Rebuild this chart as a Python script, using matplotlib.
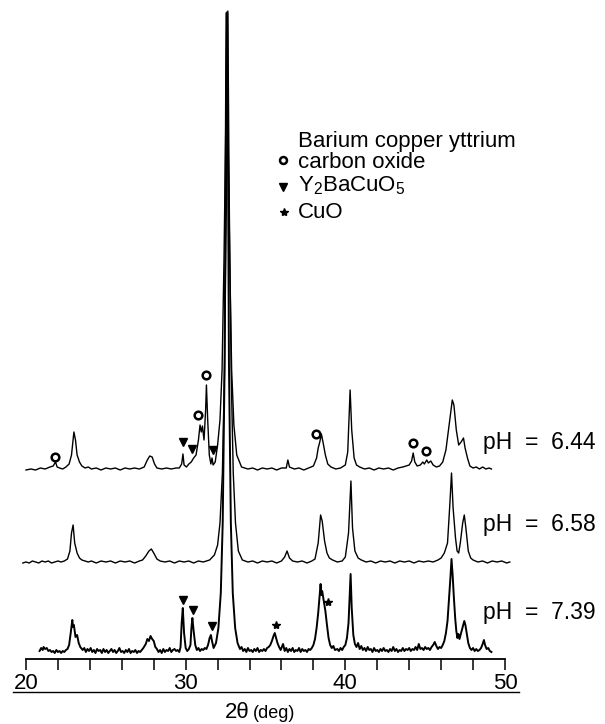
import matplotlib.pyplot as plt
from matplotlib.lines import Line2D

plt.rcParams['font.family'] = ['Liberation Sans', 'DejaVu Sans']
plt.rcParams['mathtext.fontset'] = 'custom'
plt.rcParams['mathtext.rm'] = 'Liberation Sans'

# XRD patterns: (2theta in deg, intensity above own baseline, arb. units)
pts_739 = [
    (20.85, 2), (20.95, 5), (21.05, 3), (21.1, 6), (21.2, 4), (21.3, 5), (21.4, 2), (21.5, 3),
    (21.6, 1), (21.7, 2), (21.8, 0), (21.9, 3), (22.0, 1), (22.1, 2), (22.2, 0), (22.3, 2),
    (22.4, 1), (22.5, 3), (22.6, 4), (22.7, 8), (22.8, 20), (22.9, 33), (22.95, 26), (23.0, 28),
    (23.1, 16), (23.2, 18), (23.3, 10), (23.4, 6), (23.55, 3), (23.65, 5), (23.75, 1), (23.85, 4),
    (23.95, 2), (24.05, 5), (24.15, 1), (24.25, 3), (24.35, 0), (24.45, 4), (24.55, 2), (24.65, 3),
    (24.75, 0), (24.85, 4), (24.95, 1), (25.05, 3), (25.15, 0), (25.25, 2), (25.35, 4), (25.45, 1),
    (25.55, 3), (25.65, 0), (25.75, 2), (25.85, 5), (25.95, 1), (26.05, 2), (26.15, 0), (26.25, 3),
    (26.35, 1), (26.45, 4), (26.55, 0), (26.65, 2), (26.75, 1), (26.85, 3), (26.95, 0), (27.05, 2),
    (27.15, 1), (27.25, 3), (27.35, 5), (27.5, 9), (27.6, 14), (27.7, 12), (27.8, 17), (27.9, 14),
    (28.0, 12), (28.1, 6), (28.2, 4), (28.3, 1), (28.4, 3), (28.5, 0), (28.6, 4), (28.7, 1),
    (28.8, 3), (28.9, 2), (29.0, 5), (29.1, 1), (29.2, 3), (29.3, 4), (29.4, 2), (29.5, 3),
    (29.6, 1), (29.68, 6), (29.75, 30), (29.82, 45), (29.9, 20), (30.0, 5), (30.1, 2), (30.2, 4),
    (30.3, 8), (30.36, 25), (30.42, 35), (30.5, 22), (30.6, 8), (30.7, 3), (30.8, 5), (30.9, 2),
    (31.0, 4), (31.1, 3), (31.2, 5), (31.3, 4), (31.4, 8), (31.5, 15), (31.58, 18), (31.65, 12),
    (31.75, 5), (31.9, 10), (32.05, 25), (32.2, 60), (32.32, 130), (32.44, 290), (32.55, 640),
    (32.61, 640), (32.71, 290), (32.83, 130), (32.95, 60), (33.1, 25), (33.25, 10), (33.4, 4),
    (33.5, 6), (33.6, 2), (33.7, 4), (33.8, 1), (33.9, 5), (34.0, 2), (34.1, 3), (34.2, 1),
    (34.3, 4), (34.4, 2), (34.5, 5), (34.6, 1), (34.7, 3), (34.8, 2), (34.9, 4), (35.0, 2),
    (35.1, 5), (35.2, 6), (35.3, 8), (35.4, 12), (35.5, 17), (35.58, 20), (35.65, 16),
    (35.75, 10), (35.85, 6), (35.95, 3), (36.05, 7), (36.1, 9), (36.2, 2), (36.3, 5), (36.4, 1),
    (36.5, 4), (36.6, 2), (36.7, 5), (36.8, 1), (36.9, 3), (37.0, 2), (37.1, 5), (37.2, 1),
    (37.3, 4), (37.4, 2), (37.5, 3), (37.6, 1), (37.7, 4), (37.8, 3), (37.9, 5), (38.0, 8),
    (38.1, 14), (38.2, 25), (38.3, 40), (38.38, 55), (38.45, 69), (38.5, 58), (38.55, 62),
    (38.65, 52), (38.75, 42), (38.85, 28), (38.95, 15), (39.05, 8), (39.15, 5), (39.25, 7),
    (39.35, 3), (39.5, 4), (39.6, 2), (39.7, 5), (39.8, 3), (39.9, 6), (40.0, 8), (40.1, 15),
    (40.2, 30), (40.28, 60), (40.33, 79), (40.4, 45), (40.5, 18), (40.6, 9), (40.7, 6), (40.8, 10),
    (40.9, 4), (41.0, 7), (41.1, 3), (41.2, 5), (41.3, 2), (41.4, 6), (41.5, 3), (41.6, 4),
    (41.7, 1), (41.8, 5), (41.9, 2), (42.0, 3), (42.1, 1), (42.2, 4), (42.3, 2), (42.4, 5),
    (42.5, 2), (42.6, 3), (42.7, 1), (42.8, 4), (42.9, 2), (43.0, 6), (43.1, 2), (43.2, 4),
    (43.3, 1), (43.4, 3), (43.5, 2), (43.6, 5), (43.7, 2), (43.8, 4), (43.9, 3), (44.0, 5),
    (44.1, 2), (44.2, 4), (44.3, 3), (44.4, 6), (44.5, 3), (44.6, 9), (44.7, 4), (44.8, 5),
    (44.9, 3), (45.0, 6), (45.1, 4), (45.2, 5), (45.3, 3), (45.4, 6), (45.5, 8), (45.6, 11),
    (45.7, 7), (45.8, 4), (45.9, 6), (46.0, 5), (46.1, 8), (46.2, 12), (46.3, 20), (46.4, 32),
    (46.5, 55), (46.58, 75), (46.65, 94), (46.72, 78), (46.8, 55), (46.88, 35), (46.95, 22),
    (47.02, 15), (47.08, 19), (47.15, 14), (47.25, 20), (47.35, 26), (47.45, 32), (47.52, 28),
    (47.6, 20), (47.7, 10), (47.8, 5), (47.9, 3), (48.0, 5), (48.1, 2), (48.2, 4), (48.3, 2),
    (48.4, 3), (48.5, 5), (48.6, 9), (48.68, 13), (48.75, 8), (48.85, 4), (48.95, 5), (49.05, 2),
    (49.15, 1),
]

pts_658 = [
    (19.8, 0), (20.0, 1), (20.2, 0), (20.4, 2), (20.6, 1), (20.8, 0), (21.0, 2), (21.2, 1),
    (21.4, 2), (21.6, 0), (21.8, 1), (22.0, 2), (22.2, 1), (22.4, 2), (22.6, 4), (22.75, 12),
    (22.85, 30), (22.95, 38), (23.05, 20), (23.2, 10), (23.35, 5), (23.5, 3), (23.7, 2), (23.9, 1),
    (24.1, 2), (24.4, 0), (24.7, 2), (25.0, 1), (25.3, 2), (25.6, 0), (25.9, 2), (26.2, 1),
    (26.5, 2), (26.8, 0), (27.1, 2), (27.3, 3), (27.5, 7), (27.7, 12), (27.85, 14), (28.0, 10),
    (28.2, 4), (28.4, 2), (28.7, 1), (29.0, 2), (29.3, 0), (29.6, 2), (29.9, 1), (30.2, 2),
    (30.5, 0), (30.8, 2), (31.1, 1), (31.3, 2), (31.5, 3), (31.8, 8), (32.0, 18), (32.15, 40),
    (32.3, 90), (32.43, 190), (32.55, 360), (32.64, 552), (32.73, 360), (32.85, 190), (32.98, 90),
    (33.12, 40), (33.3, 12), (33.55, 3), (33.9, 1), (34.2, 2), (34.5, 0), (34.8, 2), (35.1, 1),
    (35.4, 2), (35.7, 0), (36.0, 2), (36.2, 6), (36.35, 12), (36.5, 5), (36.7, 2), (37.0, 1),
    (37.3, 2), (37.6, 0), (37.9, 2), (38.1, 4), (38.3, 20), (38.45, 48), (38.55, 42), (38.7, 22),
    (38.85, 10), (39.0, 5), (39.2, 3), (39.5, 1), (39.8, 2), (40.0, 6), (40.2, 30), (40.35, 82),
    (40.45, 35), (40.6, 12), (40.8, 5), (41.0, 3), (41.3, 1), (41.6, 2), (41.9, 0), (42.2, 2),
    (42.5, 1), (42.8, 2), (43.1, 0), (43.4, 2), (43.7, 1), (44.0, 2), (44.3, 0), (44.6, 2),
    (44.9, 1), (45.2, 2), (45.5, 1), (45.8, 3), (46.0, 5), (46.2, 10), (46.4, 20), (46.55, 60),
    (46.65, 90), (46.75, 55), (46.9, 25), (47.0, 12), (47.1, 10), (47.2, 20), (47.35, 40),
    (47.45, 48), (47.55, 35), (47.7, 12), (47.85, 5), (48.0, 3), (48.3, 1), (48.6, 2), (48.9, 0),
    (49.2, 2), (49.5, 1), (49.8, 2), (50.1, 0), (50.3, 1),
]

pts_644 = [
    (20.0, 0), (20.3, 1), (20.6, 0), (20.9, 2), (21.2, 1), (21.5, 3), (21.7, 4), (21.85, 8),
    (21.95, 3), (22.1, 2), (22.3, 1), (22.5, 3), (22.7, 6), (22.85, 15), (23.0, 38), (23.1, 30),
    (23.2, 15), (23.35, 8), (23.5, 4), (23.7, 2), (23.9, 3), (24.1, 1), (24.4, 2), (24.7, 0),
    (25.0, 2), (25.3, 1), (25.6, 2), (25.9, 0), (26.2, 2), (26.5, 1), (26.8, 2), (27.1, 1),
    (27.4, 3), (27.6, 10), (27.75, 14), (27.9, 13), (28.05, 6), (28.2, 2), (28.5, 1), (28.8, 2),
    (29.1, 1), (29.4, 2), (29.6, 2), (29.75, 6), (29.83, 16), (29.9, 5), (30.05, 3), (30.2, 6),
    (30.35, 8), (30.5, 12), (30.65, 15), (30.8, 30), (30.9, 45), (30.98, 38), (31.05, 44),
    (31.15, 30), (31.25, 60), (31.3, 85), (31.38, 50), (31.48, 15), (31.58, 6), (31.65, 12),
    (31.72, 5), (31.85, 8), (32.0, 25), (32.15, 50), (32.28, 100), (32.4, 210), (32.5, 330),
    (32.58, 458), (32.66, 330), (32.76, 210), (32.88, 100), (33.02, 45), (33.2, 15), (33.5, 3),
    (33.9, 1), (34.2, 2), (34.5, 0), (34.8, 2), (35.1, 1), (35.4, 2), (35.7, 0), (36.0, 2),
    (36.3, 2), (36.4, 10), (36.5, 3), (36.8, 1), (37.1, 2), (37.4, 0), (37.7, 2), (38.0, 4),
    (38.2, 12), (38.3, 22), (38.4, 28), (38.5, 36), (38.6, 28), (38.75, 15), (38.9, 6), (39.1, 3),
    (39.4, 1), (39.7, 2), (40.0, 5), (40.15, 18), (40.3, 80), (40.4, 40), (40.55, 12), (40.7, 5),
    (40.9, 3), (41.2, 1), (41.5, 2), (41.8, 0), (42.1, 2), (42.4, 1), (42.7, 2), (43.0, 0),
    (43.3, 2), (43.6, 3), (43.8, 4), (44.0, 5), (44.15, 9), (44.25, 17), (44.35, 8), (44.5, 4),
    (44.7, 5), (44.85, 8), (44.95, 6), (45.1, 10), (45.2, 7), (45.35, 9), (45.5, 5), (45.7, 3),
    (45.9, 4), (46.1, 8), (46.3, 20), (46.5, 45), (46.7, 70), (46.8, 65), (46.95, 40), (47.1, 25),
    (47.25, 28), (47.4, 32), (47.5, 22), (47.65, 12), (47.8, 4), (48.0, 2), (48.2, 3), (48.4, 1),
    (48.6, 3), (48.8, 1), (49.0, 2), (49.15, 1),
]

ph_labels = ['pH  =  7.39', 'pH  =  6.58', 'pH  =  6.44']
offsets = [6, 96, 189]

# phase markers (2theta, intensity incl. offset)
circle_x = [21.8, 30.77, 31.28, 38.19, 44.26, 45.06]
circle_y = [202, 244, 284, 225, 216, 208]
tri_x = [29.83, 30.42, 31.69, 29.83, 30.48, 31.64]
tri_y = [217, 210, 209, 59, 49, 33]
star_x = [35.66, 38.92]
star_y = [34, 57]

legend_labels = ['Barium copper yttrium', 'carbon oxide',
                 r'Y$_\mathrm{2}$BaCuO$_\mathrm{5}$', 'CuO']

W, H = 605, 724
fig = plt.figure(figsize=(W / 100, H / 100), dpi=100)
ax = fig.add_axes([26 / W, 1 - 659 / H, 479 / W, 659 / H])

for pts, off, lw in [(pts_739, offsets[0], 1.4),
                     (pts_658, offsets[1], 1.0),
                     (pts_644, offsets[2], 1.0)]:
    xs = [p[0] for p in pts]
    ys = [p[1] + off for p in pts]
    ax.plot(xs, ys, color='black', lw=lw, clip_on=False)

ax.plot(circle_x, circle_y, 'o', ms=5.5, mfc='white', mec='black', mew=1.8, ls='none')
ax.plot(tri_x, tri_y, 'v', ms=5.5, color='black', ls='none')
ax.plot(star_x, star_y, '*', ms=6, color='black', ls='none')

ax.set_xlim(20, 50)
ax.set_ylim(0, 659)
for s in ['left', 'top', 'right']:
    ax.spines[s].set_visible(False)
ax.spines['bottom'].set_linewidth(1.3)
ax.set_yticks([])
ax.set_xticks(range(20, 51, 2))
ax.set_xticklabels([str(t) if t % 10 == 0 else '' for t in range(20, 51, 2)], fontsize=16)
ax.tick_params(axis='x', direction='out', length=8, width=1.1, pad=2)

# underline below tick labels
fig.add_artist(Line2D([13 / W, 519 / W], [1 - 692 / H, 1 - 692 / H], color='black', lw=1.0))

fig.text(250 / W, 1 - 713 / H, '2θ', ha='right', va='center', fontsize=16)
fig.text(253 / W, 1 - 713 / H, '(deg)', ha='left', va='center', fontsize=13)

# pH labels
for lab, yp in zip(ph_labels, [612, 524, 443]):
    fig.text(483 / W, 1 - yp / H, lab, ha='left', va='center', fontsize=16.5)

# legend
for lab, yp in zip(legend_labels, [141, 163, 186, 212]):
    fig.text(298 / W, 1 - yp / H, lab, ha='left', va='center', fontsize=16)
fig.add_artist(Line2D([283 / W], [1 - 160 / H], marker='o', ms=5, mfc='white', mec='black', mew=1.8))
fig.add_artist(Line2D([283 / W], [1 - 187 / H], marker='v', ms=5.5, color='black'))
fig.add_artist(Line2D([284 / W], [1 - 212 / H], marker='*', ms=6, color='black'))

fig.savefig('out.png', dpi=100)
